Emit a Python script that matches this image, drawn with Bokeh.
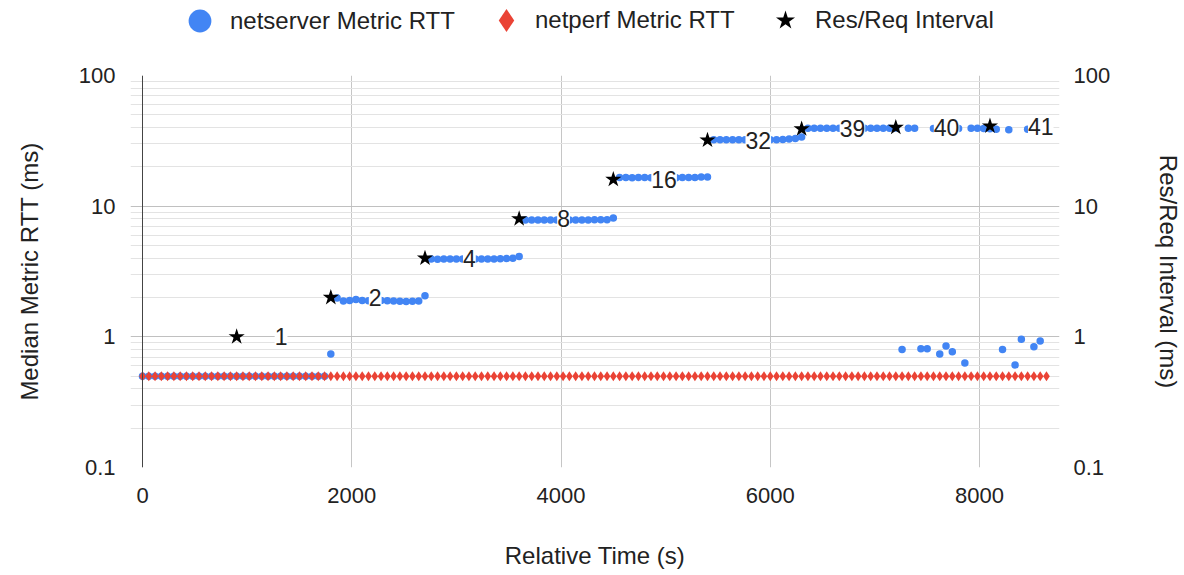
from bokeh.plotting import figure
from bokeh.layouts import column
from bokeh.models import (Range1d, FixedTicker, LogAxis, Legend, LegendItem, Span,
                          ColumnDataSource)
from bokeh.embed import file_html
from bokeh.resources import INLINE
from bokeh.core.properties import value

FONT = "Liberation Sans"
TXT = "#222222"
BLUE = "#4285F4"
RED = "#EA4335"

# ---------------- data ----------------
netperf_time = list(range(0, 8641, 60))
netperf_rtt = [0.5] * len(netperf_time)

netserver_time = list(range(0, 8641, 60))
netserver_rtt = (
    [0.5] * 30
    + [0.74]
    + [1.98, 1.88, 1.9, 1.93, 1.9, 1.89, 1.92, 1.9, 1.89, 1.88, 1.87, 1.86, 1.87, 1.88]
    + [2.06]
    + [3.95, 3.93, 3.95, 3.95, 3.94, 3.95, 3.96, 3.94, 3.95, 3.95, 3.94, 3.96, 3.97, 3.99]
    + [4.12]
    + [7.85, 7.83, 7.84, 7.85, 7.84, 7.83, 7.85, 7.84, 7.85, 7.84, 7.85, 7.86, 7.87, 7.88]
    + [8.1]
    + [16.6, 16.6, 16.5, 16.6, 16.6, 16.5, 16.6, 16.6, 16.6, 16.5, 16.6, 16.6, 16.6, 16.7]
    + [16.7]
    + [32.3, 32.3, 32.2, 32.3, 32.3, 32.2, 32.3, 32.3, 32.2, 32.3, 32.3, 32.4, 32.6, 33.0]
    + [33.9]
    + [39.4, 39.5, 39.5, 39.4, 39.5, 39.5, 39.4, 39.5, 39.5, 39.4, 39.5, 39.5, 39.4, 39.5]
    + [39.6]
    + [0.8, 39.5, 39.5, 0.81, 0.81, 39.3, 0.74, 0.85, 0.77, 39.3, 0.63, 39.4,
       39.4, 39.3, 39.2, 38.8, 0.8, 38.5, 0.61, 0.96, 38.8, 0.84, 0.93, 38.8]
)

interval_time = [900, 1800, 2700, 3600, 4500, 5400, 6300, 7200, 8100]
interval_ms = [1, 2, 4, 8, 16, 32, 39, 40, 41]
interval_label = ["1", "2", "4", "8", "16", "32", "39", "40", "41"]

series_names = ["netserver Metric RTT", "netperf Metric RTT", "Res/Req Interval"]

x_tick_values = [0, 2000, 4000, 6000, 8000]
x_tick_labels = ["0", "2000", "4000", "6000", "8000"]
y_tick_values = [0.1, 1, 10, 100]
y_tick_labels = ["0.1", "1", "10", "100"]
y_minor_values = [0.2, 0.3, 0.4, 0.5, 0.6, 0.7, 0.8, 0.9,
                  2, 3, 4, 5, 6, 7, 8, 9,
                  20, 30, 40, 50, 60, 70, 80, 90]

# ---------------- legend strip ----------------
lg = figure(width=1176, height=50, x_range=Range1d(0, 1), y_range=Range1d(0, 1),
            output_backend="svg", toolbar_location=None,
            x_axis_location=None, y_axis_location=None, min_border=0)
lg.outline_line_color = None
lg.xgrid.visible = False
lg.ygrid.visible = False
offscreen = dict(x=[-5], y=[-5])   # legend-only renderers, kept outside the strip
l1 = lg.scatter("x", "y", source=ColumnDataSource(offscreen), marker="circle",
                fill_color=BLUE, line_color=None)
l2 = lg.scatter("x", "y", source=ColumnDataSource(offscreen), marker="diamond",
                fill_color=RED, line_color=None)
l3 = lg.scatter("x", "y", source=ColumnDataSource(offscreen), marker="star",
                fill_color="black", line_color=None)


def add_legend(label, renderer, loc, box, standoff):
    lgd = Legend(
        items=[LegendItem(label=label, renderers=[renderer])],
        location=loc, orientation="horizontal",
        glyph_width=box, glyph_height=box, label_standoff=standoff,
        padding=0, margin=0, border_line_color=None, background_fill_alpha=0,
        label_text_font=FONT, label_text_font_size="24px", label_text_color=TXT,
    )
    lg.add_layout(lgd)


add_legend(series_names[0], l1, (41, 1), 57, 2)
add_legend(series_names[1], l2, (347, 1), 58, 0)
add_legend(series_names[2], l3, (630, 5), 50, 5)

# ---------------- main figure ----------------
p = figure(
    frame_width=929, frame_height=392,
    x_range=Range1d(-114.7, 8764.6), y_range=Range1d(0.1, 100),
    y_axis_type="log",
    output_backend="svg", toolbar_location=None,
    min_border_left=130, min_border_right=117, min_border_top=25, min_border_bottom=100,
)
p.outline_line_color = None

xt = FixedTicker(ticks=x_tick_values)
yt = FixedTicker(ticks=y_tick_values, minor_ticks=y_minor_values)

p.xaxis.ticker = xt
p.xgrid.ticker = xt
p.yaxis.ticker = yt
p.ygrid.ticker = yt

p.xgrid.grid_line_color = "#c6c6c6"
p.ygrid.grid_line_color = "#c0c0c0"
p.ygrid.minor_grid_line_color = "#e3e3e3"

p.xaxis.major_label_overrides = dict(zip(x_tick_values, x_tick_labels))
p.yaxis.major_label_overrides = dict(zip(y_tick_values, y_tick_labels))

right_axis = LogAxis(ticker=yt)
right_axis.major_label_overrides = dict(zip(y_tick_values, y_tick_labels))
p.add_layout(right_axis, "right")

p.xaxis.axis_label = "Relative Time (s)"
p.yaxis[0].axis_label = "Median Metric RTT (ms)"
right_axis.axis_label = "Res/Req Interval (ms)"

for ax in [p.xaxis[0], p.yaxis[0], right_axis]:
    ax.axis_line_color = None
    ax.major_tick_line_color = None
    ax.minor_tick_line_color = None
    ax.major_tick_out = 0
    ax.minor_tick_out = 0
    ax.major_label_text_font = FONT
    ax.major_label_text_font_size = "22px"
    ax.major_label_text_color = TXT
    ax.axis_label_text_font = FONT
    ax.axis_label_text_font_size = "24px"
    ax.axis_label_text_font_style = "normal"
    ax.axis_label_text_color = TXT

p.yaxis[0].major_label_standoff = 15
p.yaxis[0].axis_label_standoff = 33
right_axis.major_label_standoff = 14
right_axis.axis_label_standoff = 42
p.xaxis[0].major_label_standoff = 20
p.xaxis[0].axis_label_standoff = 36

p.add_layout(Span(location=0, dimension="height", line_color="#444444", line_width=1))

src_server = ColumnDataSource(dict(t=netserver_time, v=netserver_rtt))
src_perf = ColumnDataSource(dict(t=netperf_time, v=netperf_rtt))
src_int = ColumnDataSource(dict(t=interval_time, v=interval_ms, lab=interval_label))

p.scatter("t", "v", source=src_server, marker="circle", size=7.5,
          fill_color=BLUE, line_color=None)
p.scatter("t", "v", source=src_perf, marker="diamond", size=10,
          fill_color=RED, line_color=None)
p.text("t", "v", text="lab", source=src_int, x_offset=38,
       text_align="left", text_baseline="middle",
       text_font=value(FONT), text_font_size="23px", text_color=TXT,
       background_fill_color="white")
p.scatter("t", "v", source=src_int, marker="star", size=17,
          fill_color="black", line_color=None)

layout = column(lg, p, spacing=0)
open("out.html", "w").write(file_html(layout, INLINE))
